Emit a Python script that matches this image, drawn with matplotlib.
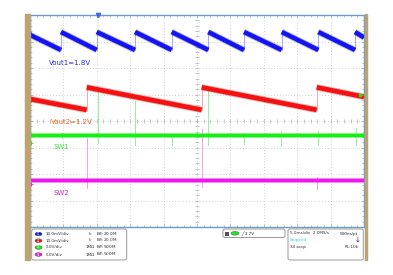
import matplotlib
matplotlib.use("Agg")
import matplotlib.pyplot as plt
from matplotlib.patches import Rectangle, FancyBboxPatch, Ellipse

# ---------------- data (time in ms, amplitude in screen divisions) ----------------
blue_jumps_ms = [4.64, 9.99, 15.72, 21.21, 26.69, 32.04, 37.68, 43.16, 48.65]
blue_top, blue_bottom, blue_start, blue_end = 3.36, 2.68, 3.25, 3.15

red_jumps_ms = [8.49, 25.70, 42.92]
red_top, red_bottom, red_start, red_end = 1.27, 0.42, 0.83, 0.91

green_level = -0.51
magenta_level = -2.21

green_spike_ms = [4.75, 10.13, 15.72, 21.21, 26.60, 32.08, 37.57, 43.16, 48.76]
green_spike_top = [-0.45, 1.17, 0.75, -0.57, 1.13, -0.45, -0.38, -0.38, -0.26]
green_spike_bot = [-0.64, -0.83, -0.91, -0.91, -0.91, -0.87, -0.94, -0.91, -0.91]

magenta_spike_ms = [8.58, 25.79, 42.92]
magenta_spike_top = [-0.64, -0.31, -2.10]
magenta_spike_bot = [-2.53, -2.48, -2.57]

labels = ["Vout1=1.8V", "Vout2=1.2V", "SW1", "SW2"]
label_x_ms = [2.84, 3.14, 3.59, 3.59]
label_y_div = [2.19, -0.04, -0.98, -2.72]

chan_marker_div = [3.28, 0.80, -0.83, -2.38]
chan_names = ["1", "2", "3", "4"]

scale_text = ["10.0mV/div", "10.0mV/div", "5.0V/div", "5.0V/div"]
coupling_text = ["", "", "1MΩ", "1MΩ"]
bw_text = ["B$_W$:20.0M", "B$_W$:20.0M", "B$_W$:500M", "B$_W$:500M"]
trigger_text = "3.7V"
timebase_text = ["5.0ms/div  2.0MS/s", "500ns/pt"]
state_text = "Stopped"
acq_text = ["34 acqs", "RL:10k"]

# ---------------- style ----------------
COLORS = ["#1414ee", "#f21212", "#14f014", "#f014f0"]
LIGHT = ["#9898ff", "#ff9898", "#98f098", "#f0a0f0"]
LABEL_COLORS = ["#2a2ae0", "#f56a30", "#40e040", "#c030c0"]
TAN = "#bba374"
BORDER = "#6a9ad0"

W, H = 393, 275
fig = plt.figure(figsize=(W / 100, H / 100), dpi=100)
fig.patch.set_facecolor("white")

def fx(px):
    return px / W

def fy(py):
    return 1 - py / H

# grid area in pixels
GL, GR, GT, GB = 30, 364, 15, 227
ax = fig.add_axes([fx(GL), fy(GB), fx(GR - GL), (GB - GT) / H])
ax.set_xlim(0, 50)
ax.set_ylim(-4, 4)
ax.set_facecolor("white")
for s in ax.spines.values():
    s.set_color(BORDER)
    s.set_linewidth(1.0)

# graticule
GRID_C = "#c4c4c4"
for i in range(1, 10):
    ax.axvline(i * 5, color=GRID_C, lw=0.6, ls=(0, (1, 2.4)), zorder=0)
for j in range(-3, 4):
    ax.axhline(j, color=GRID_C, lw=0.6, ls=(0, (1, 2.4)), zorder=0)
ax.set_xticks([i * 5 for i in range(11)])
ax.set_xticks([i for i in range(51)], minor=True)
ax.set_yticks(range(-4, 5))
ax.set_yticks([k * 0.2 for k in range(-20, 21)], minor=True)
ax.tick_params(which="both", direction="in", top=True, right=True,
               labelbottom=False, labelleft=False, color="#a8a8a8", width=0.5)
ax.tick_params(which="major", length=2.5)
ax.tick_params(which="minor", length=1.5)
# center cross ticks
cx = [i for i in range(51)]
ax.plot(cx, [0] * len(cx), ls="none", marker="|", ms=2.5, mew=0.5, color="#b0b0b0", zorder=0)
cy = [k * 0.2 for k in range(-20, 21)]
ax.plot([25] * len(cy), cy, ls="none", marker="_", ms=2.5, mew=0.5, color="#b0b0b0", zorder=0)

# ---- sawtooth builders from read jump times ----
def sawtooth(jumps, top, bottom, start, end):
    segs = []
    t0, v0 = 0.0, start
    for t in jumps:
        segs.append(([t0, t], [v0, bottom]))
        t0, v0 = t, top
    segs.append(([t0, 50.0], [v0, end]))
    return segs

def draw_saw(segs, jumps, top, bottom, color, light, lw):
    for t in jumps:
        ax.plot([t, t], [bottom, top], color=light, lw=0.6, zorder=2)
    for xs, ys in segs:
        ax.plot(xs, ys, color=color, lw=lw + 1.2, alpha=0.35, solid_capstyle="butt", zorder=3)
        ax.plot(xs, ys, color=color, lw=lw, solid_capstyle="butt", zorder=3)

# spikes
for t, a, b in zip(green_spike_ms, green_spike_top, green_spike_bot):
    ax.plot([t, t], [a, b], color=LIGHT[2], lw=0.7, zorder=2)
for t, a, b in zip(magenta_spike_ms, magenta_spike_top, magenta_spike_bot):
    ax.plot([t, t], [a, b], color=LIGHT[3], lw=0.7, zorder=2)

draw_saw(sawtooth(blue_jumps_ms, blue_top, blue_bottom, blue_start, blue_end),
         blue_jumps_ms, blue_top, blue_bottom, COLORS[0], LIGHT[0], 3.2)
draw_saw(sawtooth(red_jumps_ms, red_top, red_bottom, red_start, red_end),
         red_jumps_ms, red_top, red_bottom, COLORS[1], LIGHT[1], 3.4)

for lvl, col in [(green_level, COLORS[2]), (magenta_level, COLORS[3])]:
    ax.plot([0, 50], [lvl, lvl], color=col, lw=3.6, alpha=0.35, zorder=3)
    ax.plot([0, 50], [lvl, lvl], color=col, lw=2.5, zorder=3)

# labels
for txt, x, y, c in zip(labels, label_x_ms, label_y_div, LABEL_COLORS):
    ax.text(x, y, txt, color=c, fontsize=5.0, ha="left", va="center", zorder=5)

# trigger position marker (top) and trigger level marker (right)
ax.plot([10.13], [4.0], marker="v", ms=3, color="#3a6ae0", clip_on=False, zorder=6)
ax.plot([49.4], [1.0], marker="s", ms=1.6, color=COLORS[2], clip_on=False, zorder=6)
ax.plot([49.4, 50.0], [1.0, 1.0], color=COLORS[2], lw=0.5, clip_on=False, zorder=6)

# left tan bar and right edge
fig.patches.append(Rectangle((fx(25), fy(260)), fx(4.5), (260 - 14) / H,
                             transform=fig.transFigure, color=TAN, zorder=1))
fig.patches.append(Rectangle((fx(365), fy(260)), fx(2), (260 - 14) / H,
                             transform=fig.transFigure, color=TAN, zorder=1))

# channel markers on the left edge
for lvl, name, col in zip(chan_marker_div, chan_names, COLORS):
    ax.plot([-0.35], [lvl], marker="o", ms=4.2, mfc=col, mec=col, clip_on=False, zorder=7)
    ax.text(-0.35, lvl, name, fontsize=2.6, color="white", ha="center", va="center",
            clip_on=False, zorder=8)
    ax.plot([-0.05, 0.5], [lvl, lvl], color=col, lw=0.5, clip_on=False, zorder=7)

# ---------------- bottom info panel ----------------
def box(x0, y0, x1, y1):
    fig.patches.append(FancyBboxPatch((fx(x0), fy(y1)), fx(x1 - x0), (y1 - y0) / H,
                                      boxstyle="round,pad=0,rounding_size=0.006",
                                      transform=fig.transFigure, fc="white",
                                      ec="#9a9a9a", lw=0.7, zorder=2))

box(31.7, 229, 126.7, 260)
row_y = [234, 240.7, 247.5, 254.5]
for i, ry in enumerate(row_y):
    fig.patches.append(Ellipse((fx(38.5), fy(ry)), fx(7), 3.6 / H, transform=fig.transFigure,
                               fc=COLORS[i], ec="#404040", lw=0.3, zorder=3))
    fig.text(fx(38.5), fy(ry), "C%d" % (i + 1), fontsize=1.8, color="white",
             ha="center", va="center", zorder=4)
    fig.text(fx(45.5), fy(ry), scale_text[i], fontsize=3.0, color="#303030",
             ha="left", va="center", zorder=4)
    if coupling_text[i]:
        fig.text(fx(86), fy(ry), coupling_text[i], fontsize=3.0, color="#303030",
                 ha="left", va="center", zorder=4)
    else:
        fig.text(fx(88), fy(ry), "Ι$_c$", fontsize=3.0, color="#303030",
                 ha="left", va="center", zorder=4)
    fig.text(fx(96.5), fy(ry), bw_text[i], fontsize=3.0, color="#303030",
             ha="left", va="center", zorder=4)

box(223, 229, 285, 237.5)
fig.patches.append(Rectangle((fx(225), fy(235.5)), fx(4), 4 / H, transform=fig.transFigure,
                             fc="#505060", ec="none", zorder=3))
fig.patches.append(Ellipse((fx(235), fy(233.3)), fx(8), 3.6 / H, transform=fig.transFigure,
                           fc=COLORS[2], ec="#404040", lw=0.3, zorder=3))
fig.text(fx(241), fy(233.3), "╱ " + trigger_text, fontsize=3.0, color="#303030",
         ha="left", va="center", zorder=4)

box(288, 229, 363.3, 260)
fig.text(fx(290), fy(233.5), timebase_text[0], fontsize=3.0, color="#303030",
         ha="left", va="center", zorder=4)
fig.text(fx(340), fy(233.5), timebase_text[1], fontsize=3.0, color="#303030",
         ha="left", va="center", zorder=4)
fig.text(fx(290), fy(240.3), state_text, fontsize=3.0, color="#20d8e8",
         ha="left", va="center", zorder=4)
fig.text(fx(290), fy(247.3), acq_text[0], fontsize=3.0, color="#303030",
         ha="left", va="center", zorder=4)
fig.text(fx(345), fy(247.3), acq_text[1], fontsize=3.0, color="#303030",
         ha="left", va="center", zorder=4)
fig.text(fx(358), fy(240), "↓", fontsize=5, color="#1030d0", ha="center", va="center",
         zorder=4)

fig.savefig("out.png", dpi=100, facecolor="white")
